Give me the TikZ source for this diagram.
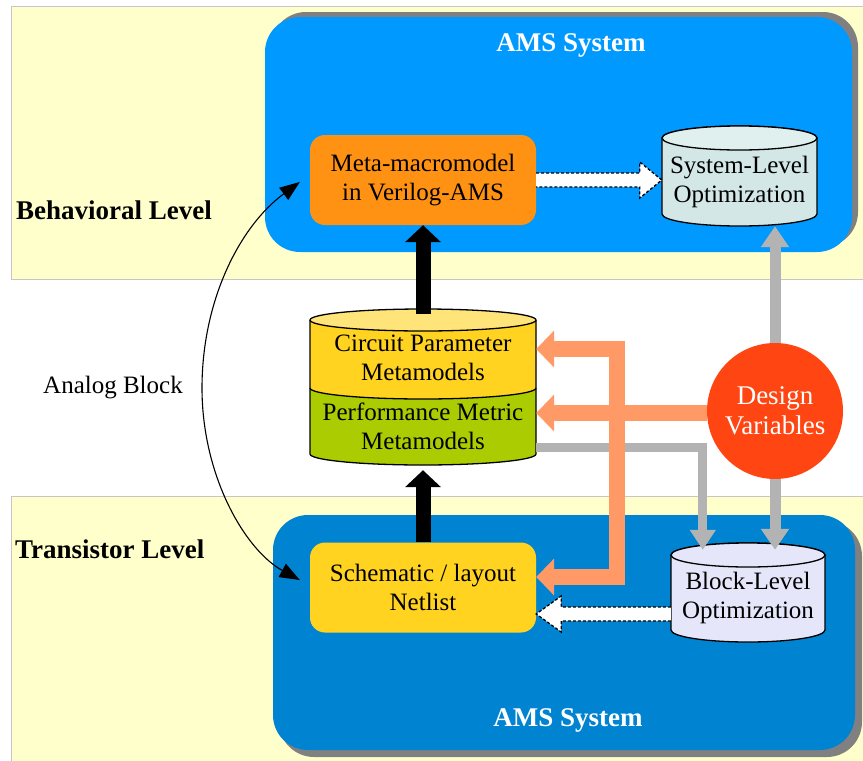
\documentclass[tikz,border=0pt]{standalone}
\usepackage{fontspec}
\setmainfont{Liberation Serif}
\usetikzlibrary{arrows.meta,calc,shapes.geometric}
\definecolor{bandY}{HTML}{FFFFCC}
\definecolor{topblue}{HTML}{0099FF}
\definecolor{botblue}{HTML}{0083D1}
\definecolor{shadowgray}{HTML}{808080}
\definecolor{metaorange}{HTML}{FF9212}
\definecolor{schyellow}{HTML}{FFD320}
\definecolor{midtop}{HTML}{FFE47A}
\definecolor{midgreen}{HTML}{AACC00}
\definecolor{syscol}{HTML}{D3E8E6}
\definecolor{systop}{HTML}{DFF0EE}
\definecolor{blkcol}{HTML}{E6E6FA}
\definecolor{dvred}{HTML}{FF4612}
\definecolor{salmon}{HTML}{FF9966}
\definecolor{arrgray}{HTML}{B3B3B3}
\begin{document}
\begin{tikzpicture}[x=1pt,y=-1pt,
  txt/.style={font=\fontsize{25}{29}\selectfont, align=center, text=black, inner sep=0pt},
  hdr/.style={font=\fontsize{27}{31}\selectfont\bfseries, inner sep=0pt},
  boxnode/.style={txt, rounded corners=15pt, minimum width=226pt, minimum height=90pt},
  cylout/.style={draw=black, line width=1.3pt},
  blackarr/.style={line width=15pt, -{Triangle[width=35pt,length=17pt]}},
  grayarr/.style={arrgray, line width=11pt, -{Triangle[width=27pt,length=21pt]}},
  grayarrthin/.style={arrgray, line width=9pt, -{Triangle[width=25pt,length=20pt]}},
  salmonarr/.style={salmon, line width=16pt, -{Triangle[width=36pt,length=18pt]}},
  dasharr/.style={draw=black, fill=white, line width=1.3pt, dash pattern=on 3pt off 2pt},
  curvearr/.style={line width=1.1pt, {Triangle[width=15pt,length=20pt]}-{Triangle[width=15pt,length=20pt]}}
]
\useasboundingbox (0,0) rectangle (863,761);
\fill[white] (0,0) rectangle (863,761);
% bands
\draw[gray!45, line width=0.8pt, fill=bandY] (11,6) rectangle (866,279);
\draw[gray!45, line width=0.8pt, fill=bandY] (11,496) rectangle (866,765);
% AMS boxes
\fill[shadowgray, rounded corners=35pt] (271,12) rectangle (858,247);
\fill[topblue, rounded corners=35pt] (265,17) rectangle (852,252);
\fill[shadowgray, rounded corners=35pt] (279,521) rectangle (862,757);
\fill[botblue, rounded corners=35pt] (273,515) rectangle (855,750);
\node[hdr, text=white] (amstop) at (571,45) {AMS System};
\node[hdr, text=white] (amsbot) at (568,720) {AMS System};
% left labels
\node[hdr, anchor=west] (beh) at (16,210) {Behavioral Level};
\node[hdr, anchor=west] (tra) at (15,549) {Transistor Level};
\node[txt] (ab) at (113,388) {Analog Block};
% boxes
\node[boxnode, fill=metaorange] (meta) at (423,180) {Meta-macromodel\\in Verilog-AMS};
\node[boxnode, fill=schyellow] (sch) at (423,587.5) {Schematic / layout\\Netlist};
% system-level cylinder
\path[cylout, fill=syscol] (662,138) -- (662,214) arc[start angle=180,end angle=360,x radius=77.5pt,y radius=12pt] -- (817,138) arc[start angle=0,end angle=180,x radius=77.5pt,y radius=12pt] -- cycle;
\draw[cylout, fill=systop] (739.5,138) ellipse[x radius=77.5pt,y radius=12pt];
\node[txt, minimum width=155pt, minimum height=88pt] (sys) at (739.5,182) {System-Level\\Optimization};
% block-level cylinder
\path[cylout, fill=blkcol] (671,555) -- (671,630) arc[start angle=180,end angle=360,x radius=77pt,y radius=12pt] -- (825,555) arc[start angle=0,end angle=180,x radius=77pt,y radius=12pt] -- cycle;
\draw[cylout, fill=blkcol] (748,555) ellipse[x radius=77pt,y radius=12pt];
\node[txt, minimum width=154pt, minimum height=88pt] (blk) at (748,598) {Block-Level\\Optimization};
% metamodel cylinder
\path[fill=midgreen] (310,388) -- (310,454) arc[start angle=180,end angle=360,x radius=113pt,y radius=11pt] -- (536,388) arc[start angle=360,end angle=180,x radius=113pt,y radius=11pt] -- cycle;
\path[fill=schyellow] (310,320) -- (310,388) arc[start angle=180,end angle=360,x radius=113pt,y radius=11pt] -- (536,320) arc[start angle=0,end angle=180,x radius=113pt,y radius=11pt] -- cycle;
\draw[cylout] (310,320) -- (310,454) arc[start angle=180,end angle=360,x radius=113pt,y radius=11pt] -- (536,320);
\draw[cylout] (310,388) arc[start angle=180,end angle=360,x radius=113pt,y radius=11pt];
\draw[cylout, fill=midtop] (423,320) ellipse[x radius=113pt,y radius=11pt];
\node[minimum width=226pt, minimum height=156pt, inner sep=0pt] (mid) at (423,387) {};
\node[txt] (cpm) at (423,358) {Circuit Parameter\\Metamodels};
\node[txt] (pmm) at (423,426) {Performance Metric\\Metamodels};
% design variables
\node[circle, fill=dvred, minimum size=136pt, inner sep=0pt, font=\fontsize{27}{30}\selectfont, align=center, text=white] (dv) at (775,411) {Design\\Variables};
% gray arrows
\draw[grayarr] (dv.north) -- (dv.north |- sys.south);
\draw[grayarr] (dv.south) -- ([yshift=4pt]dv.south |- blk.north);
\draw[grayarrthin, line join=miter] ([yshift=-60pt]mid.east) -| ([xshift=32pt,yshift=4pt]blk.north west);
% salmon arrows
\draw[salmonarr] ([yshift=-2pt]dv.west) -- ([yshift=-2pt]dv.west -| mid.east);
\draw[salmon, line width=16pt, line join=miter, {Triangle[width=36pt,length=18pt]}-{Triangle[width=36pt,length=18pt]}] ([yshift=38pt]mid.east) -- ++(81,0) |- ([yshift=10.5pt]sch.east);
% black arrows
\draw[blackarr] ([yshift=-5pt]mid.north) -- (meta.south);
\draw[blackarr] (sch.north) -- ([yshift=-5pt]mid.south);
% dashed arrows
\draw[dasharr] let \p1=(meta.east), \p2=(sys.west) in
  (\x1,\y1+7pt) -- (\x2-22pt,\y1+7pt) -- (\x2-22pt,\y1+18pt) -- (\x2,\y1) -- (\x2-22pt,\y1-18pt) -- (\x2-22pt,\y1-7pt) -- (\x1,\y1-7pt);
\draw[dasharr] let \p1=([yshift=-16pt]blk.west), \p2=(sch.east) in
  (\x1,\y1+7pt) -- (\x2+25pt,\y1+7pt) -- (\x2+25pt,\y1+18pt) -- (\x2,\y1) -- (\x2+25pt,\y1-18pt) -- (\x2+25pt,\y1-7pt) -- (\x1,\y1-7pt);
% analog block curve
\draw[curvearr] ([xshift=-10pt,yshift=-2pt]meta.west) .. controls (240,226) and (202,300) .. (202,388) .. controls (202,476) and (245,550) .. ([xshift=-10pt,yshift=7.5pt]sch.west);
\end{tikzpicture}
\end{document}
